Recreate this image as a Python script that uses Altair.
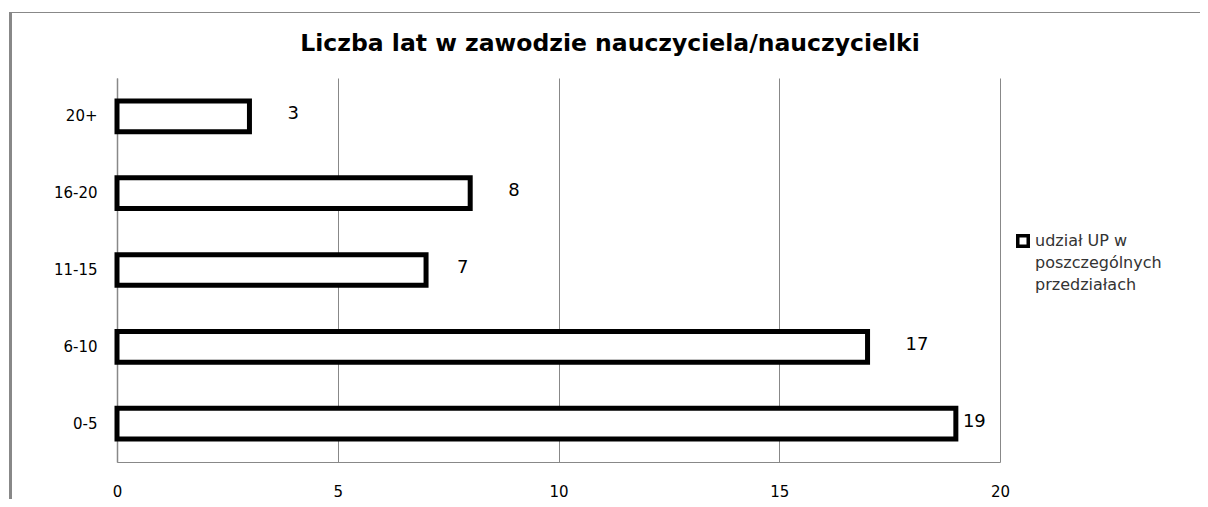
import altair as alt
import pandas as pd

categories = ["20+", "16-20", "11-15", "6-10", "0-5"]
values = [3, 8, 7, 17, 19]
label_shift = [0.86, 0.86, 0.70, 0.86, 0.16]  # label gap from bar end, in axis units
series_name = "udział UP w|poszczególnych|przedziałach"
x_ticks = [0, 5, 10, 15, 20]
title_text = "Liczba lat w zawodzie nauczyciela/nauczycielki"

df = pd.DataFrame({
    "cat": categories,
    "value": values,
    "shift": label_shift,
})
legend_df = pd.DataFrame({"series": [series_name], "title": [title_text]})

W, H = 883, 384
PAD_L, PAD_T = 109, 70
FONT = "DejaVu Sans"

y_enc = alt.Y("cat:N", sort=categories, title=None,
              scale=alt.Scale(paddingInner=0.6, paddingOuter=0.3),
              axis=alt.Axis(labelFont=FONT, labelFontSize=15, labelColor="#000",
                            labelPadding=20, ticks=False, domainColor="#888",
                            domainWidth=1.5, grid=False))

bars = alt.Chart(df).mark_bar(fill="white", stroke="black", strokeWidth=5,
                              strokeJoin="miter").encode(
    x=alt.X("value:Q", title=None,
            scale=alt.Scale(domain=[0, 20], nice=False, zero=True),
            axis=alt.Axis(values=x_ticks, labelFont=FONT, labelFontSize=15,
                          labelColor="#000", labelPadding=22, ticks=False,
                          labelFlush=False,
                          domainColor="#888", gridColor="#888", gridWidth=1,
                          grid=True)),
    y=y_enc,
)

labels = alt.Chart(df).transform_calculate(
    lx="datum.value + datum.shift"
).mark_text(align="left", baseline="middle", font=FONT, fontSize=18,
            color="#000", dy=-2).encode(
    x=alt.X("lx:Q"),
    y=alt.Y("cat:N", sort=categories),
    text="value:Q",
)

legend_symbol = alt.Chart(legend_df).mark_point(
    shape="square", size=110, filled=False, stroke="black", strokeWidth=3.5,
    fill="white", opacity=1).encode(x=alt.value(906), y=alt.value(163))
legend_text = alt.Chart(legend_df).mark_text(
    align="left", baseline="middle", font=FONT, fontSize=16, color="#333",
    lineBreak="|", lineHeight=22).encode(
    x=alt.value(918), y=alt.value(163), text="series:N")

title_mark = alt.Chart(legend_df).mark_text(
    align="center", baseline="middle", font="DejaVu Sans", fontSize=23.5,
    fontWeight="bold", color="#000").encode(
    x=alt.value(493), y=alt.value(-34), text="title:N")

frame_left = alt.Chart(legend_df).mark_rule(color="#888", strokeWidth=3).encode(
    x=alt.value(-PAD_L + 2.5), y=alt.value(-PAD_T + 4), y2=alt.value(H + 60))
frame_top = alt.Chart(legend_df).mark_rule(color="#888", strokeWidth=1).encode(
    x=alt.value(-PAD_L + 1), x2=alt.value(1200), y=alt.value(-PAD_T + 4.5))

chart = alt.layer(bars, labels, legend_symbol, legend_text, title_mark,
                  frame_left, frame_top).properties(
    width=W, height=H,
    background="white",
    autosize=alt.AutoSizeParams(type="none"),
    padding={"left": PAD_L, "top": PAD_T, "right": 1192 - PAD_L - W,
             "bottom": 491 - PAD_T - H},
).configure_view(stroke=None)

chart.save("out.html", embed_options={"renderer": "svg", "actions": False})
